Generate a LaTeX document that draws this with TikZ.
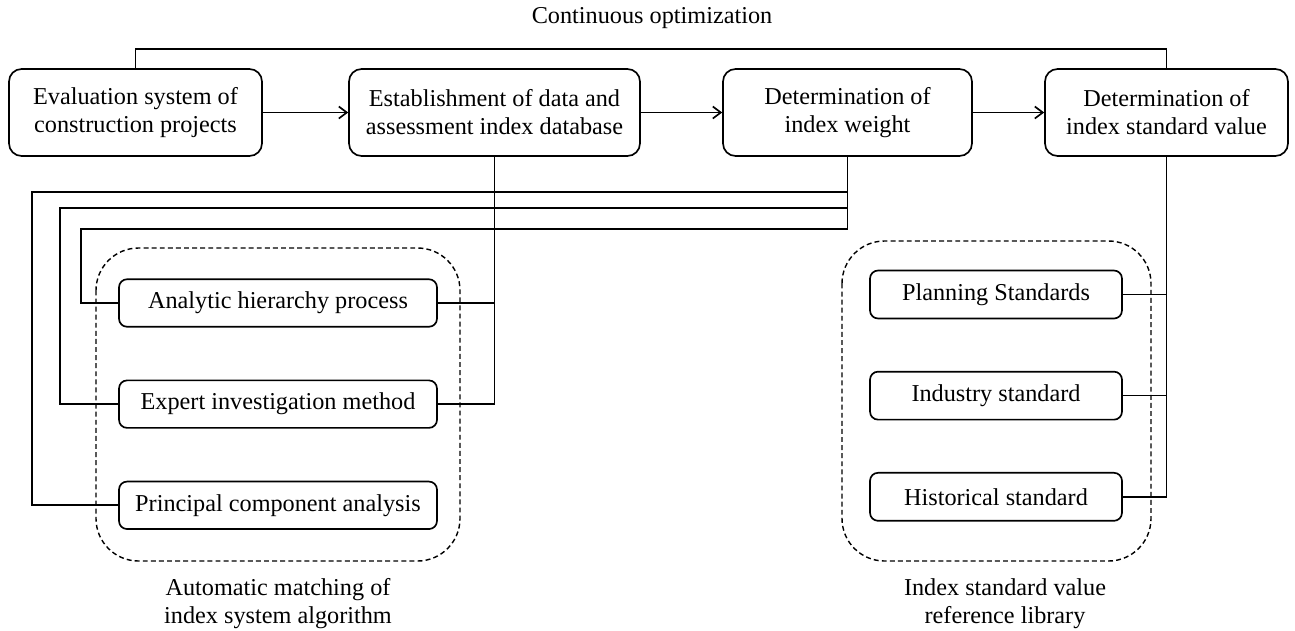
\documentclass[tikz,border=0pt]{standalone}
\usepackage{fontspec}
\setmainfont{Liberation Serif}
\usetikzlibrary{positioning, arrows.meta, calc}

\begin{document}
\begin{tikzpicture}[x=0.02cm, y=-0.02cm,
  font=\fontsize{13.8}{16}\selectfont, >={Straight Barb[length=1.6mm, width=2.4mm]},
  line width=0.95pt,
  stage/.style={draw, rounded corners=2.5mm, align=center, minimum height=1.74cm},
  metbox/.style={draw, rounded corners=1.6mm, align=center, minimum width=6.36cm, minimum height=0.95cm},
  refbox/.style={draw, rounded corners=1.6mm, align=center, minimum width=5.04cm, minimum height=0.96cm},
  grp/.style={draw, dash pattern=on 2.8pt off 1.8pt, rounded corners=8.5mm, line width=0.8pt},
]
  \useasboundingbox (0,0) rectangle (1295,630);
  % main chain
  \node[stage, minimum width=5.06cm] (ev) at (135.5,112.5) {Evaluation system of\\construction projects};
  \node[stage, minimum width=5.82cm] (est) at (494.5,112.5) {Establishment of data and\\assessment index database};
  \node[stage, minimum width=4.98cm] (det) at (847.5,112.5) {Determination of\\index weight};
  \node[stage, minimum width=4.86cm] (std) at (1166.5,112.5) {Determination of\\index standard value};
  \draw[->] (ev) -- (est); \draw[->] (est) -- (det); \draw[->] (det) -- (std);
  \draw (ev.north) -- ++(0,-19) -| (std.north);
  \node (opt) at (652,18) {Continuous optimization};

  % weighting methods
  \node[metbox] (ahp) at (278,303) {Analytic hierarchy process};
  \node[metbox, below=1.04cm of ahp] (exp) {Expert investigation method};
  \node[metbox, below=1.04cm of exp] (pca) {Principal component analysis};
  \draw[grp] (96,248) rectangle (460,561);
  \node[align=center] (auto) at (278,603.5) {Automatic matching of\\index system algorithm};
  \draw (est.south) |- (exp.east);
  \draw (ahp.east) -- (ahp.east -| est.south);
  \draw (det.south) -- ++(0,72) -| ($(ahp.west)+(-37,0)$) -- (ahp.west);
  \draw ($(det.south)+(0,51)$) -| ($(exp.west)+(-58,0)$) -- (exp.west);
  \draw ($(det.south)+(0,35)$) -| ($(pca.west)+(-86,0)$) -- (pca.west);

  % standard values
  \node[refbox] (plan) at (996,294.5) {Planning Standards};
  \node[refbox, below=1.03cm of plan] (ind) {Industry standard};
  \node[refbox, below=1.03cm of ind] (hist) {Historical standard};
  \draw[grp] (842,241) rectangle (1151,561);
  \node[align=center] (lib) at (1005,603.5) {Index standard value\\reference library};
  \draw (std.south) |- (hist.east);
  \draw (plan.east) -- (plan.east -| std.south);
  \draw (ind.east) -- (ind.east -| std.south);
\end{tikzpicture}
\end{document}
